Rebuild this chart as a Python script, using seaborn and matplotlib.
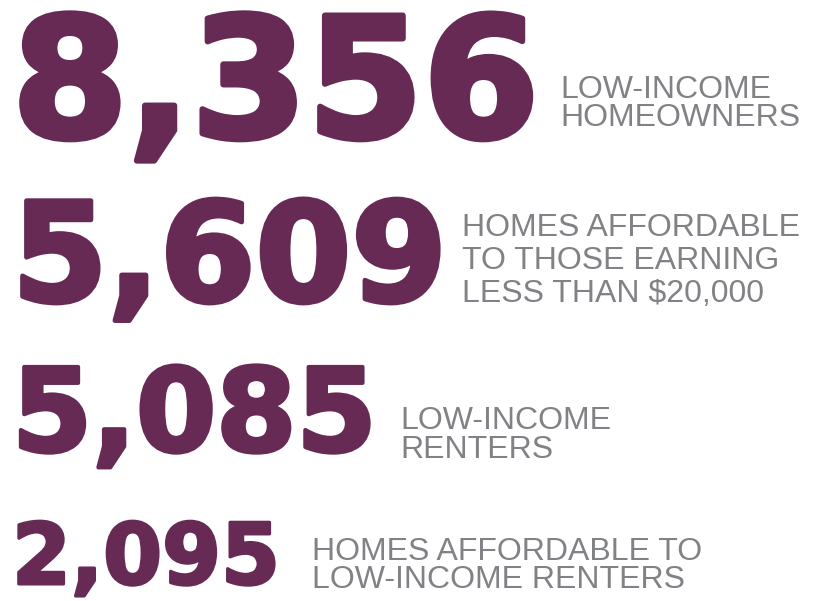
import matplotlib
matplotlib.use("Agg")
import matplotlib.pyplot as plt
import matplotlib.patheffects as pe
import seaborn as sns

# data
values = [8356, 5609, 5085, 2095]
labels = [
    "LOW-INCOME\nHOMEOWNERS",
    "HOMES AFFORDABLE\nTO THOSE EARNING\nLESS THAN $20,000",
    "LOW-INCOME\nRENTERS",
    "HOMES AFFORDABLE TO\nLOW-INCOME RENTERS",
]

# layout (pixel coords, y from top)
num_sizes = [120, 99, 83, 61]         # pt
num_baselines = [137, 301, 451, 584]
label_x = [560, 462, 400, 312]
label_y = [126, 302, 458, 588]         # last line baseline
label_spacing = [0.93, 1.14, 0.97, 0.9]

purple = "#662a55"
gray = "#808285"

sns.set_theme(style="white")
plt.rcParams["font.family"] = ["DejaVu Sans"]

fig = plt.figure(figsize=(8.33, 6.01), dpi=100)
ax = fig.add_axes([0, 0, 1, 1])
ax.set_xlim(0, 833)
ax.set_ylim(601, 0)
ax.axis("off")

for i, v in enumerate(values):
    # a thin stroke in the same colour makes the figures look heavier
    stroke = [pe.withStroke(linewidth=num_sizes[i] / 28, foreground=purple)]
    ax.text(12, num_baselines[i], f"{v:,}", fontsize=num_sizes[i],
            fontweight="bold", color=purple, ha="left", va="baseline",
            family=["DejaVu Sans"], path_effects=stroke)
    ax.text(label_x[i], label_y[i], labels[i], fontsize=23, color=gray,
            ha="left", va="baseline", linespacing=label_spacing[i],
            family=["Liberation Sans", "DejaVu Sans"])

fig.savefig("out.png", dpi=100, facecolor="white")
